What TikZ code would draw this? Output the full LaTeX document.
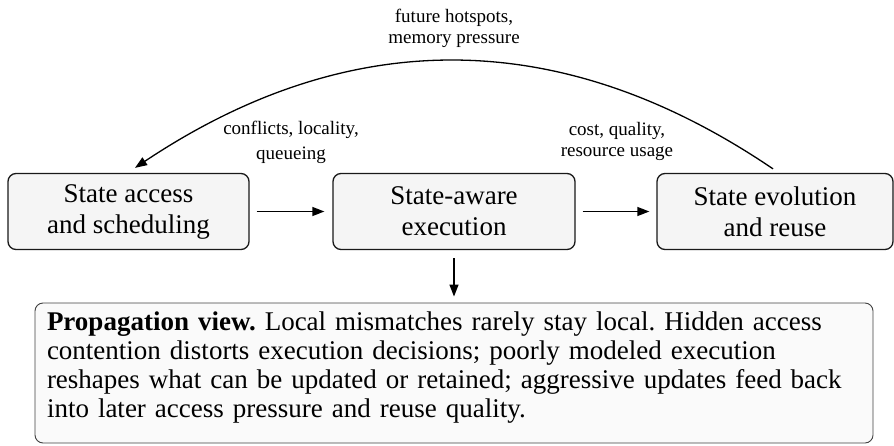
\documentclass[tikz,border=0pt]{standalone}
\usepackage{fontspec}
\setmainfont{Liberation Serif}
\usetikzlibrary{arrows.meta}
\frenchspacing
\begin{document}
\begin{tikzpicture}[x=1pt,y=-1pt,
  stage/.style={draw=black!90, line width=1.3pt, rounded corners=8pt, fill=black!4,
    minimum height=76pt, align=center, inner sep=0pt,
    font=\fontsize{27}{31}\selectfont},
  flow/.style={-{Triangle[length=12pt,width=9pt]}, line width=1.3pt},
  lbl/.style={align=center, inner sep=0pt},
  note/.style={draw=black!75, line width=0.9pt, rounded corners=8pt, fill=black!2,
    minimum width=838pt, minimum height=140pt, inner xsep=12pt,
    text width=814pt, text depth=104pt, align=left, font=\fontsize{27}{29}\selectfont}
]
\useasboundingbox (0,0) rectangle (894,445);

% the three stages
\node[stage, minimum width=241pt] (acc) at (128.5,211.5) {State access\\and scheduling};
\node[stage, minimum width=242pt] (exe) at (454,211.5) {State-aware\\execution};
\node[stage, minimum width=236pt] (evo) at (775,211.5) {State evolution\\and reuse};

% forward flow
\draw[flow, shorten <=7pt, shorten >=8pt] (acc.east) -- (exe.west);
\draw[flow, shorten <=7pt, shorten >=7pt] (exe.east) -- (evo.west);

% summary box, extra depth keeps the text towards the top
\node[note] (view) at (454,373) {\textbf{Propagation view.} Local mismatches rarely stay local. Hidden access\\
contention distorts execution decisions; poorly modeled execution\\
reshapes what can be updated or retained; aggressive updates feed back\\
into later access pressure and reuse quality.};
\draw[flow, shorten <=8pt, shorten >=6pt] (exe.south) -- (view.north -| exe.south);

% feedback arc
\draw[flow] ([xshift=-2pt,yshift=4pt]evo.north) .. controls (561,25) and (349,25) .. ([xshift=6.5pt,yshift=5pt]acc.north);

% labels
\node[lbl, font=\fontsize{19}{21}\selectfont] (fb) at (454,28) {future hotspots,\\memory pressure};
\node[lbl, font=\fontsize{19}{25}\selectfont] (l1) at (291,142) {conflicts, locality,\\queueing};
\node[lbl, font=\fontsize{19}{21.5}\selectfont] (l2) at (617,141.5) {cost, quality,\\resource usage};
\end{tikzpicture}
\end{document}
